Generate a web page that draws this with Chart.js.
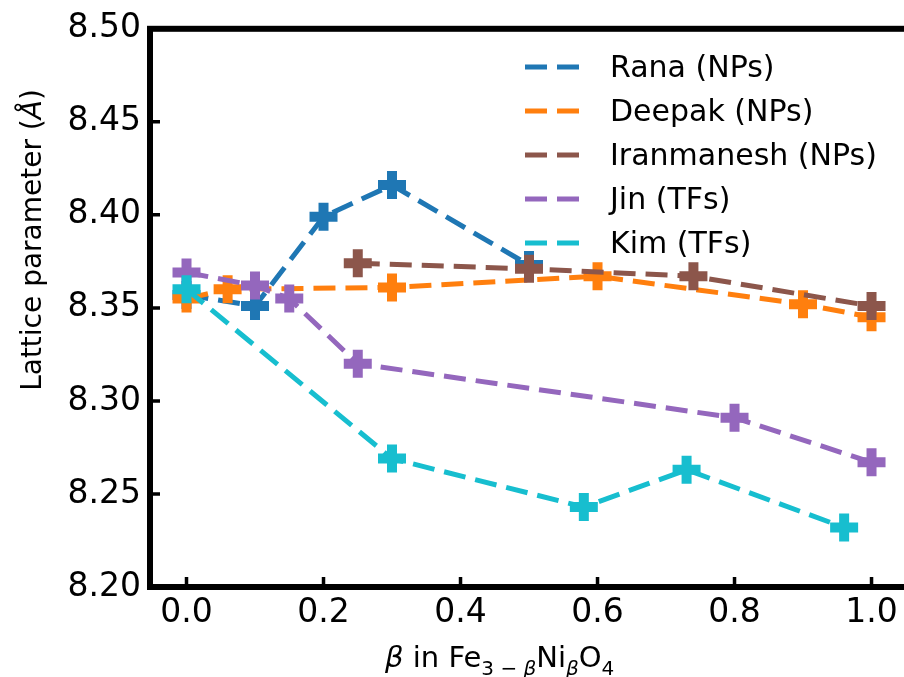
<!DOCTYPE html>
<html>
<head>
<meta charset="utf-8">
<script src="https://cdn.jsdelivr.net/npm/chart.js@4/dist/chart.umd.min.js"></script>
<style>
    html, body { margin: 0; padding: 0; background: #fff; overflow: hidden; }
    #wrap { position: absolute; left: 0; top: 0; width: 904px; height: 677px; }
</style>
</head>
<body>
<div id="wrap"><canvas id="latticeChart" width="904" height="677"></canvas></div>
<script>
// Lattice parameter vs Ni content, one series per source
const seriesLabels = ['Rana (NPs)', 'Deepak (NPs)', 'Iranmanesh (NPs)', 'Jin (TFs)', 'Kim (TFs)'];
const seriesColors = ['#1f77b4', '#ff7f0e', '#8c564b', '#9467bd', '#17becf'];

const betaRana = [0, 0.1, 0.2, 0.3, 0.5];
const latticeRana = [8.357, 8.351, 8.399, 8.416, 8.373];

const betaDeepak = [0, 0.06, 0.3, 0.6, 0.9, 1.0];
const latticeDeepak = [8.355, 8.360, 8.361, 8.367, 8.352, 8.345];

const betaIranmanesh = [0.25, 0.5, 0.74, 1.0];
const latticeIranmanesh = [8.374, 8.371, 8.367, 8.351];

const betaJin = [0, 0.1, 0.15, 0.25, 0.8, 1.0];
const latticeJin = [8.369, 8.362, 8.355, 8.320, 8.291, 8.267];

const betaKim = [0, 0.3, 0.58, 0.73, 0.96];
const latticeKim = [8.360, 8.269, 8.243, 8.263, 8.232];

const xTickValues = [0, 0.2, 0.4, 0.6, 0.8, 1.0];
const yTickValues = [8.20, 8.25, 8.30, 8.35, 8.40, 8.45, 8.50];

const FONT = "'DejaVu Sans', 'Liberation Sans', sans-serif";
const DASH = [22, 10];

const toPoints = (xs, ys) => xs.map((x, i) => ({ x: x, y: ys[i] }));

const allX = [betaRana, betaDeepak, betaIranmanesh, betaJin, betaKim];
const allY = [latticeRana, latticeDeepak, latticeIranmanesh, latticeJin, latticeKim];

const datasets = seriesLabels.map((label, i) => ({
    label: label,
    data: toPoints(allX[i], allY[i]),
    showLine: true,
    borderColor: seriesColors[i],
    backgroundColor: seriesColors[i],
    borderWidth: 5,
    borderDash: DASH,
    pointStyle: 'cross',
    pointRadius: 14,
    pointHoverRadius: 14,
    pointBorderWidth: 10,
    pointBorderColor: seriesColors[i],
    order: seriesLabels.length - i
}));

// spines, inward tick marks and the x tick labels
const frameAndTicks = {
    id: 'frameAndTicks',
    afterDatasetsDraw(chart) {
        const { ctx, chartArea: a, scales } = chart;
        ctx.save();
        ctx.strokeStyle = '#000';
        ctx.lineCap = 'butt';
        ctx.lineWidth = 3.5;
        ctx.beginPath();
        xTickValues.forEach(v => {
            const px = scales.x.getPixelForValue(v);
            ctx.moveTo(px, a.bottom);
            ctx.lineTo(px, a.bottom - 10);
        });
        yTickValues.forEach(v => {
            const py = scales.y.getPixelForValue(v);
            ctx.moveTo(a.left, py);
            ctx.lineTo(a.left + 10, py);
        });
        ctx.stroke();
        ctx.lineWidth = 6;
        ctx.lineJoin = 'miter';
        ctx.strokeRect(a.left, a.top, a.right + 3 - a.left, a.bottom - a.top);

        ctx.fillStyle = '#000';
        ctx.font = '33px ' + FONT;
        ctx.textAlign = 'center';
        ctx.textBaseline = 'alphabetic';
        xTickValues.forEach(v => {
            ctx.fillText(v.toFixed(1), scales.x.getPixelForValue(v), a.bottom + 35);
        });
        ctx.restore();
    }
};

// dashed-line legend sitting inside the plot, upper right
const insideLegend = {
    id: 'insideLegend',
    afterDraw(chart) {
        const ctx = chart.ctx;
        ctx.save();
        chart.data.datasets.forEach((ds, i) => {
            const y = 67 + i * 44;
            ctx.strokeStyle = ds.borderColor;
            ctx.lineWidth = 5;
            ctx.setLineDash(DASH);
            ctx.beginPath();
            ctx.moveTo(525, y);
            ctx.lineTo(579, y);
            ctx.stroke();
            ctx.setLineDash([]);
            ctx.fillStyle = '#000';
            ctx.font = '30px ' + FONT;
            ctx.textBaseline = 'middle';
            ctx.textAlign = 'left';
            ctx.fillText(ds.label, 610, y + 2);
        });
        ctx.restore();
    }
};

// axis titles, with sub-scripted formula on the x axis
const axisTitles = {
    id: 'axisTitles',
    afterDraw(chart) {
        const ctx = chart.ctx;
        ctx.save();
        ctx.fillStyle = '#000';
        ctx.textBaseline = 'alphabetic';
        ctx.textAlign = 'left';

        // y title, rotated
        const main = '28px ' + FONT;
        const ital = 'italic 28px ' + FONT;
        const yParts = [['Lattice parameter (', main], ['Å', ital], [')', main]];
        let yWidth = 0;
        yParts.forEach(p => { ctx.font = p[1]; yWidth += ctx.measureText(p[0]).width; });
        ctx.translate(41, 240);
        ctx.rotate(-Math.PI / 2);
        let cx = -yWidth / 2;
        yParts.forEach(p => {
            ctx.font = p[1];
            ctx.fillText(p[0], cx, 0);
            cx += ctx.measureText(p[0]).width;
        });
        ctx.setTransform(1, 0, 0, 1, 0, 0);

        // x title: β in Fe(3−β) Ni(β) O(4)
        const big = '29px ' + FONT;
        const bigIt = 'italic 29px ' + FONT;
        const sub = '20px ' + FONT;
        const subIt = 'italic 20px ' + FONT;
        const xParts = [
            ['β', bigIt, 0], [' in Fe', big, 0], ['3', sub, 8], [' − ', sub, 8], ['β', subIt, 8],
            ['Ni', big, 0], ['β', subIt, 8], ['O', big, 0], ['4', sub, 8]
        ];
        let tx = 385;
        const baseY = 667;
        xParts.forEach(p => {
            ctx.font = p[1];
            ctx.fillText(p[0], tx, baseY + p[2]);
            tx += ctx.measureText(p[0]).width;
        });
        ctx.restore();
    }
};

new Chart(document.getElementById('latticeChart').getContext('2d'), {
    type: 'scatter',
    data: { datasets: datasets },
    options: {
        responsive: false,
        devicePixelRatio: 1,
        animation: false,
        layout: { autoPadding: false, padding: { top: 25, right: 0, left: 0, bottom: 0 } },
        plugins: {
            legend: { display: false },
            tooltip: { enabled: false }
        },
        scales: {
            x: {
                type: 'linear',
                min: -0.0533,
                max: 1.0474,
                afterFit: axis => { axis.height = 90; },
                afterBuildTicks: axis => { axis.ticks = xTickValues.map(v => ({ value: v })); },
                grid: { display: false, drawTicks: false },
                border: { display: false },
                ticks: { display: false }
            },
            y: {
                type: 'linear',
                min: 8.20,
                max: 8.50,
                afterFit: axis => { axis.width = 150; },
                afterBuildTicks: axis => { axis.ticks = yTickValues.map(v => ({ value: v })); },
                grid: { display: false, drawTicks: false },
                border: { display: false },
                ticks: {
                    padding: 9,
                    color: '#000',
                    font: { family: FONT, size: 33 },
                    callback: v => v.toFixed(2)
                }
            }
        }
    },
    plugins: [frameAndTicks, insideLegend, axisTitles]
});
</script>
</body>
</html>
